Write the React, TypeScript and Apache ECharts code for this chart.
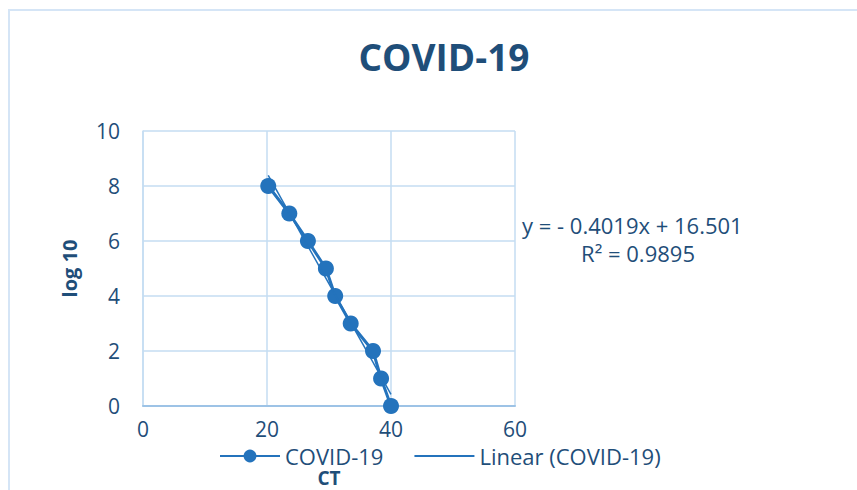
import React, { useEffect, useRef } from "react";
import * as echarts from "echarts";

const ctValues = [20.2, 23.6, 26.6, 29.5, 31.0, 33.5, 37.1, 38.4, 40.0];
const logValues = [8, 7, 6, 5, 4, 3, 2, 1, 0];
const trendSlope = -0.4019;
const trendIntercept = 16.501;
const rSquared = 0.9895;
const xTicks = [0, 20, 40, 60];
const yTicks = [0, 2, 4, 6, 8, 10];

const seriesColor = "#2473BC";
const textColor = "#1F4E79";
const font = "'Open Sans', 'Noto Sans', sans-serif";

export default function App() {
  const ref = useRef<HTMLDivElement>(null);
  useEffect(() => {
    if (!ref.current) return;
    const chart = echarts.init(ref.current, undefined, { renderer: "svg" });
    const xMin = Math.min(...ctValues);
    const xMax = Math.max(...ctValues);
    const trend = [
      [xMin, trendSlope * xMin + trendIntercept],
      [xMax, trendSlope * xMax + trendIntercept],
    ];
    const eq = `y = - ${Math.abs(trendSlope)}x + ${trendIntercept}`;
    chart.setOption({
      animation: false,
      backgroundColor: "#ffffff",
      title: {
        text: "COVID-19",
        left: 439,
        top: 33,
        textAlign: "center",
        textStyle: { color: textColor, fontSize: 37, fontWeight: "bold", fontFamily: font },
      },
      grid: { left: 143, right: 342, top: 131, bottom: 84, outerBoundsMode: "none" },
      xAxis: {
        type: "value",
        min: xTicks[0],
        max: xTicks[xTicks.length - 1],
        interval: 20,
        name: "CT",
        nameLocation: "middle",
        nameGap: 62,
        nameTextStyle: { color: textColor, fontSize: 19, lineHeight: 19, fontWeight: "bold", fontFamily: font },
        axisLine: { show: true, lineStyle: { color: "#9DC3E6", width: 2 } },
        axisTick: { show: false },
        axisLabel: { color: textColor, fontSize: 21, fontFamily: font, margin: 12 },
        splitLine: { show: true, lineStyle: { color: "#C5DCF2", width: 1.5 } },
      },
      yAxis: {
        type: "value",
        min: yTicks[0],
        max: yTicks[yTicks.length - 1],
        interval: 2,
        name: "log 10",
        nameLocation: "middle",
        nameGap: 64,
        nameRotate: 90,
        nameTextStyle: { color: textColor, fontSize: 20, fontWeight: "bold", fontFamily: font },
        axisLine: { show: true, lineStyle: { color: "#C5DCF2", width: 1.5 } },
        axisTick: { show: false },
        axisLabel: { color: textColor, fontSize: 21, fontFamily: font, margin: 23 },
        splitLine: { show: true, lineStyle: { color: "#C5DCF2", width: 1.5 } },
      },
      legend: {
        left: 214,
        top: 440,
        itemWidth: 60,
        itemHeight: 16,
        itemGap: 30,
        textStyle: { color: textColor, fontSize: 22, lineHeight: 22, fontFamily: font },
        data: [
          { name: "COVID-19" },
          { name: "Linear (COVID-19)", itemStyle: { opacity: 0 } },
        ],
      },
      graphic: [
        {
          type: "rect",
          shape: { x: 9, y: 10, width: 900, height: 500 },
          style: { fill: "none", stroke: "#D5E5F6", lineWidth: 2 },
          silent: true,
        },
        {
          type: "text",
          x: 522,
          y: 214,
          style: { text: eq, fill: textColor, fontSize: 22, fontFamily: font },
        },
        {
          type: "text",
          x: 638,
          y: 242,
          style: { text: `R² = ${rSquared}`, fill: textColor, fontSize: 22, fontFamily: font, align: "center" },
        },
      ],
      series: [
        {
          name: "Linear (COVID-19)",
          type: "line",
          data: trend,
          symbol: "none",
          lineStyle: { color: seriesColor, width: 1.5 },
          itemStyle: { color: seriesColor },
          z: 3,
        },
        {
          name: "COVID-19",
          type: "line",
          data: ctValues.map((x, i) => [x, logValues[i]]),
          symbol: "circle",
          symbolSize: 16,
          lineStyle: { color: seriesColor, width: 3 },
          itemStyle: { color: seriesColor },
          z: 2,
        },
      ],
    });
    return () => chart.dispose();
  }, []);
  return <div ref={ref} style={{ position: "fixed", left: 0, top: 0, width: 857, height: 490 }} />;
}
